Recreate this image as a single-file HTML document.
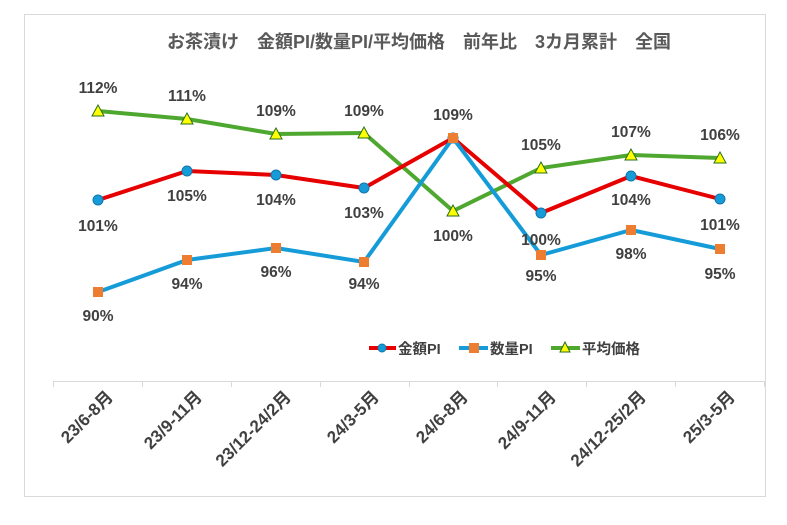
<!DOCTYPE html>
<html><head><meta charset="utf-8"><style>
body{margin:0;background:#fff;}
svg text{font-family:"Liberation Sans","Noto Sans CJK JP",sans-serif;font-weight:bold;fill:#404040;}
</style></head><body>
<svg width="787" height="520" xmlns="http://www.w3.org/2000/svg">
<rect x="0" y="0" width="787" height="520" fill="#fff"/>
<rect x="24.5" y="14.5" width="741" height="482" fill="#fff" stroke="#d9d9d9"/>
<text x="419" y="48" text-anchor="middle" font-size="18" style="fill:#595959">お茶漬け　金額PI/数量PI/平均価格　前年比　3カ月累計　全国</text>
<line x1="53" y1="381.5" x2="765" y2="381.5" stroke="#d9d9d9"/>
<g stroke="#d9d9d9">
<line x1="53.5" y1="381" x2="53.5" y2="387"/><line x1="142.5" y1="381" x2="142.5" y2="387"/><line x1="231.5" y1="381" x2="231.5" y2="387"/><line x1="320.5" y1="381" x2="320.5" y2="387"/><line x1="409.5" y1="381" x2="409.5" y2="387"/><line x1="497.5" y1="381" x2="497.5" y2="387"/><line x1="586.5" y1="381" x2="586.5" y2="387"/><line x1="675.5" y1="381" x2="675.5" y2="387"/><line x1="764.5" y1="381" x2="764.5" y2="387"/>
</g>
<g font-size="17" style="fill:#595959" text-anchor="end">
<text transform="translate(114,398) rotate(-45)">23/6-8月</text>
<text transform="translate(203,398) rotate(-45)">23/9-11月</text>
<text transform="translate(292,398) rotate(-45)">23/12-24/2月</text>
<text transform="translate(380,398) rotate(-45)">24/3-5月</text>
<text transform="translate(469,398) rotate(-45)">24/6-8月</text>
<text transform="translate(557,398) rotate(-45)">24/9-11月</text>
<text transform="translate(647,398) rotate(-45)">24/12-25/2月</text>
<text transform="translate(736,398) rotate(-45)">25/3-5月</text>
</g>
<polyline points="98,111 187,119 276,134 364,133 453,211 541,168 631,155 720,158" fill="none" stroke="#4ea72e" stroke-width="4"/>
<polyline points="98,200 187,171 276,175 364,188 453,138 541,213 631,176 720,199" fill="none" stroke="#e60000" stroke-width="4"/>
<polyline points="98,292 187,260 276,248 364,262 453,138 541,255 631,230 720,249" fill="none" stroke="#159cd8" stroke-width="4"/>
<g fill="#ffff00" stroke="#2a6e1a" stroke-width="1">
<polygon points="98,105 92,116 104,116"/><polygon points="187,113 181,124 193,124"/><polygon points="276,128 270,139 282,139"/><polygon points="364,127 358,138 370,138"/><polygon points="453,205 447,216 459,216"/><polygon points="541,162 535,173 547,173"/><polygon points="631,149 625,160 637,160"/><polygon points="720,152 714,163 726,163"/>
</g>
<g fill="#159cd8" stroke="#1177aa" stroke-width="1">
<circle cx="98" cy="200" r="5"/><circle cx="187" cy="171" r="5"/><circle cx="276" cy="175" r="5"/><circle cx="364" cy="188" r="5"/><circle cx="453" cy="138" r="5"/><circle cx="541" cy="213" r="5"/><circle cx="631" cy="176" r="5"/><circle cx="720" cy="199" r="5"/>
</g>
<g fill="#ed7d31">
<rect x="93" y="287" width="10" height="10"/><rect x="182" y="255" width="10" height="10"/><rect x="271" y="243" width="10" height="10"/><rect x="359" y="257" width="10" height="10"/><rect x="448" y="133" width="10" height="10"/><rect x="536" y="250" width="10" height="10"/><rect x="626" y="225" width="10" height="10"/><rect x="715" y="244" width="10" height="10"/>
</g>
<g font-size="15.5" text-anchor="middle">
<text x="98" y="93">112%</text><text x="187" y="101">111%</text><text x="276" y="116">109%</text><text x="364" y="116">109%</text><text x="453" y="241">100%</text><text x="541" y="150">105%</text><text x="631" y="137">107%</text><text x="720" y="140">106%</text>
<text x="98" y="231">101%</text><text x="187" y="201">105%</text><text x="276" y="205">104%</text><text x="364" y="218">103%</text><text x="453" y="120">109%</text><text x="541" y="245">100%</text><text x="631" y="205">104%</text><text x="720" y="230">101%</text>
<text x="98" y="321">90%</text><text x="187" y="289">94%</text><text x="276" y="277">96%</text><text x="364" y="289">94%</text><text x="541" y="281">95%</text><text x="631" y="259">98%</text><text x="720" y="279">95%</text>
</g>
<g font-size="14.5">
<line x1="369" y1="348" x2="396" y2="348" stroke="#e60000" stroke-width="4"/><circle cx="382" cy="348" r="4" fill="#159cd8" stroke="#1177aa"/>
<text x="398" y="354">金額PI</text>
<line x1="459" y1="348" x2="488" y2="348" stroke="#159cd8" stroke-width="4"/><rect x="469" y="343" width="10" height="10" fill="#ed7d31"/>
<text x="490" y="354">数量PI</text>
<line x1="551" y1="348" x2="580" y2="348" stroke="#4ea72e" stroke-width="4"/><polygon points="565,342 560,352 570,352" fill="#ffff00" stroke="#2a6e1a"/>
<text x="582" y="354">平均価格</text>
</g>
</svg>
</body></html>
